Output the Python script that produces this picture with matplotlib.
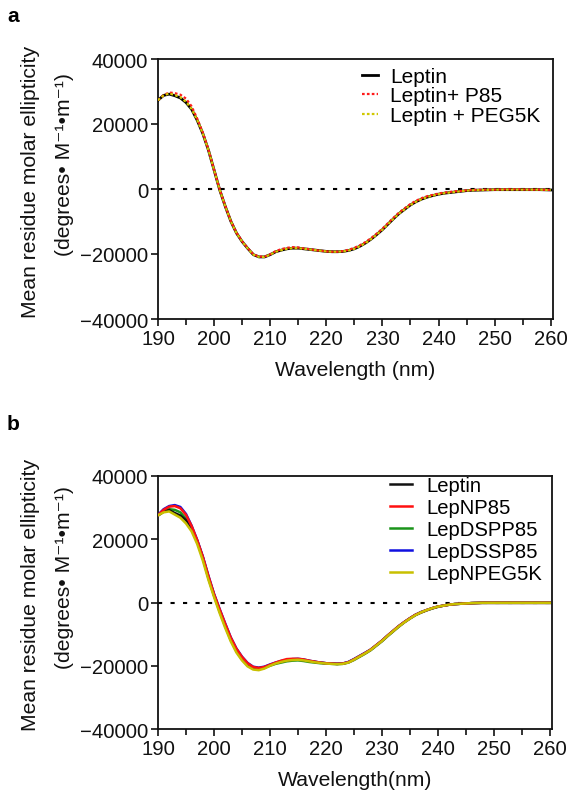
import matplotlib
matplotlib.use("Agg")
import matplotlib.pyplot as plt
from matplotlib.ticker import MultipleLocator

plt.rcParams['font.family'] = ['Liberation Sans', 'DejaVu Sans']
plt.rcParams['mathtext.default'] = 'regular'

# Wavelength grid (nm)
wl = [190, 191, 192, 193, 194, 195, 196, 197, 198, 199,
      200, 201, 202, 203, 204, 205, 206, 207, 208, 209,
      210, 211, 212, 213, 214, 215, 216, 217, 218, 219,
      220, 221, 222, 223, 224, 225, 226, 227, 228, 229,
      230, 231, 232, 233, 234, 235, 236, 237, 238, 239,
      240, 241, 242, 243, 244, 245, 246, 248, 250, 252,
      254, 256, 258, 260]

# ---- Panel a ----
a_leptin = [27300, 28800, 29200, 28700, 28000, 26600, 24500, 21100, 17000, 11900,
            5800, -300, -5400, -10000, -13600, -16200, -18300, -20200, -20900, -20900,
            -20200, -19300, -18800, -18400, -18200, -18200, -18400, -18600, -18800, -19000,
            -19200, -19300, -19300, -19200, -18900, -18400, -17600, -16600, -15400, -14000,
            -12500, -10800, -9100, -7500, -6200, -4900, -3900, -3100, -2500, -2000,
            -1600, -1300, -1100, -900, -700, -500, -400, -300, -200, -200,
            -200, -200, -200, -300]
a_p85 = [27300, 28900, 29700, 29500, 29000, 27800, 25400, 21600, 17300, 12100,
         5900, -200, -5300, -9900, -13500, -16100, -18200, -20100, -20800, -20800,
         -20100, -19100, -18500, -18100, -17900, -18000, -18300, -18500, -18800, -19000,
         -19200, -19300, -19300, -19100, -18700, -18100, -17300, -16300, -15100, -13700,
         -12200, -10500, -8800, -7200, -5900, -4600, -3600, -2800, -2200, -1800,
         -1400, -1100, -900, -700, -600, -400, -300, -200, -200, -100,
         -100, -200, -200, -300]
a_peg = [27300, 28800, 29400, 28900, 28200, 26800, 24600, 21200, 17000, 11900,
         5800, -300, -5400, -10000, -13600, -16200, -18300, -20200, -20900, -20900,
         -20200, -19300, -18800, -18400, -18200, -18200, -18400, -18600, -18800, -19000,
         -19200, -19300, -19300, -19200, -18900, -18400, -17600, -16600, -15400, -14000,
         -12500, -10800, -9100, -7500, -6200, -4900, -3900, -3100, -2500, -2000,
         -1600, -1300, -1100, -900, -700, -500, -400, -300, -200, -200,
         -200, -200, -200, -300]
a_labels = ["Leptin", "Leptin+ P85", "Leptin + PEG5K"]

# ---- Panel b ----
b_leptin = [27500, 28700, 29200, 28300, 27500, 26000, 23500, 19500, 14300, 8000,
            2500, -2500, -7200, -11500, -15000, -17600, -19500, -20600, -20800, -20500,
            -19800, -19200, -18700, -18300, -18100, -18000, -18200, -18500, -18800, -19000,
            -19200, -19300, -19400, -19300, -18900, -18000, -17000, -16000, -14900, -13500,
            -12100, -10500, -9000, -7500, -6200, -5000, -3900, -3100, -2400, -1800,
            -1300, -1000, -700, -500, -400, -300, -200, -100, -100, -100,
            -100, -100, -100, -100]
b_np85 = [27600, 29300, 30300, 30500, 29800, 27700, 24200, 19700, 14500, 8400,
          2700, -2100, -6700, -11100, -14600, -17200, -19200, -20400, -20700, -20400,
          -19700, -19000, -18400, -17900, -17800, -17800, -18000, -18400, -18700, -19000,
          -19200, -19300, -19400, -19300, -18900, -18000, -17000, -16000, -14900, -13500,
          -12100, -10500, -9000, -7500, -6200, -5000, -3900, -3100, -2400, -1800,
          -1300, -1000, -700, -500, -400, -300, -200, -100, -100, -100,
          -100, -100, -100, -100]
b_dspp85 = [27500, 29000, 29500, 29300, 28500, 26500, 23500, 19200, 14000, 7700,
            2200, -2800, -7500, -11900, -15400, -18000, -19900, -20900, -21000, -20700,
            -20000, -19400, -19000, -18600, -18400, -18300, -18500, -18800, -19000, -19200,
            -19300, -19400, -19500, -19400, -19000, -18200, -17200, -16200, -15100, -13700,
            -12300, -10700, -9200, -7700, -6300, -5100, -4000, -3200, -2500, -1900,
            -1400, -1000, -700, -500, -400, -300, -200, -100, -100, -100,
            -100, -100, -100, -100]
b_dssp85 = [27700, 29500, 30500, 30800, 30200, 28000, 24300, 19800, 14600, 8500,
            2800, -2000, -6600, -11000, -14500, -17100, -19100, -20300, -20600, -20300,
            -19600, -19000, -18500, -18200, -17900, -17800, -18000, -18400, -18700, -19000,
            -19200, -19300, -19400, -19300, -18800, -17900, -16900, -15900, -14900, -13500,
            -12100, -10500, -9000, -7500, -6200, -5000, -3900, -3000, -2400, -1800,
            -1300, -1000, -700, -500, -400, -300, -200, -100, -100, -100,
            -100, -100, -100, -100]
b_npeg5k = [27600, 28500, 28800, 27800, 26800, 25000, 22500, 18500, 13300, 7200,
            1800, -3300, -8000, -12300, -15800, -18300, -20200, -21200, -21400, -20900,
            -20000, -19300, -18800, -18400, -18200, -18100, -18300, -18600, -18900, -19100,
            -19300, -19400, -19500, -19400, -19000, -18100, -17100, -16100, -15000, -13600,
            -12200, -10600, -9100, -7600, -6300, -5100, -4000, -3100, -2400, -1800,
            -1300, -1000, -700, -500, -400, -300, -200, -100, -100, -100,
            -100, -100, -100, -100]
b_labels = ["Leptin", "LepNP85", "LepDSPP85", "LepDSSP85", "LepNPEG5K"]

yticks = [-40000, -20000, 0, 20000, 40000]
xticks = [190, 200, 210, 220, 230, 240, 250, 260]

W, H = 578, 804
fig = plt.figure(figsize=(W / 100, H / 100), dpi=100)

def make_axes(left, top, right, bottom):
    return fig.add_axes([left / W, 1 - bottom / H, (right - left) / W, (bottom - top) / H])

axa = make_axes(158, 60, 553, 320)
axb = make_axes(158, 477, 552, 730)

FS = 14.6
TXT = '#111111'

def style(ax, xlabel):
    ax.set_xlim(190, 260.4)
    ax.set_ylim(-40000, 40000)
    ax.set_xticks(xticks)
    ax.set_yticks(yticks)
    ax.xaxis.set_minor_locator(MultipleLocator(5))
    ax.tick_params(axis='both', which='major', direction='out', length=5, width=1.2,
                   labelsize=FS, pad=2, colors=TXT)
    ax.tick_params(axis='x', which='minor', direction='out', length=4, width=1.2, colors=TXT)
    for s in ax.spines.values():
        s.set_linewidth(1.3)
        s.set_color(TXT)
    ax.set_xlabel(xlabel, fontsize=15.2, labelpad=9, color=TXT)
    ax.axhline(0, color='black', lw=1.5, dashes=(2, 4), zorder=1)

# Panel a
axa.plot(wl, a_leptin, color='black', lw=2.0, label=a_labels[0], zorder=3)
axa.plot(wl, a_p85, color='#ff1a1a', lw=1.6, dashes=(1.2, 1.0), label=a_labels[1], zorder=4)
axa.plot(wl, a_peg, color='#d0c800', lw=1.6, dashes=(1.2, 1.0), label=a_labels[2], zorder=5)
style(axa, "Wavelength (nm)")
axa.legend(loc='upper left', bbox_to_anchor=(362 / W, 1 - 68 / H), bbox_transform=fig.transFigure,
           frameon=False, fontsize=15.0, handlelength=0.77, handletextpad=0.58,
           labelspacing=0.02, borderpad=0, borderaxespad=0)

# Panel b
b_series = [b_leptin, b_np85, b_dspp85, b_dssp85, b_npeg5k]
b_colors = ['#111111', '#ff1010', '#1a941a', '#1010e0', '#c8c000']
b_order = [2, 4, 1, 3, 5]
for ys, c, lab, z in zip(b_series, b_colors, b_labels, b_order):
    axb.plot(wl, ys, color=c, lw=1.8, label=lab, zorder=2 + z)
style(axb, "Wavelength(nm)")
axb.legend(loc='upper left', bbox_to_anchor=(390 / W, 1 - 477.5 / H), bbox_transform=fig.transFigure,
           frameon=False, fontsize=14.6, handlelength=1.1, handletextpad=0.68,
           labelspacing=0.14, borderpad=0, borderaxespad=0)

# Y labels (two lines)
for ax, cy in ((axa, 190), (axb, 603)):
    fig.text(31 / W, 1 - (cy - 8) / H, "Mean residue molar ellipticity", rotation=90,
             ha='center', va='center', fontsize=15.2, color=TXT)
    fig.text(64 / W, 1 - (cy - 25) / H, "(degrees\u2022 M\u207b\u00b9\u2022m\u207b\u00b9)", rotation=90,
             ha='center', va='center', fontsize=15.2, color=TXT)

# Panel letters
fig.text(13 / W, 1 - 17 / H, "a", fontsize=15, fontweight='bold', ha='center', va='center')
fig.text(13 / W, 1 - 425 / H, "b", fontsize=15, fontweight='bold', ha='center', va='center')

fig.savefig("out.png", dpi=100)
